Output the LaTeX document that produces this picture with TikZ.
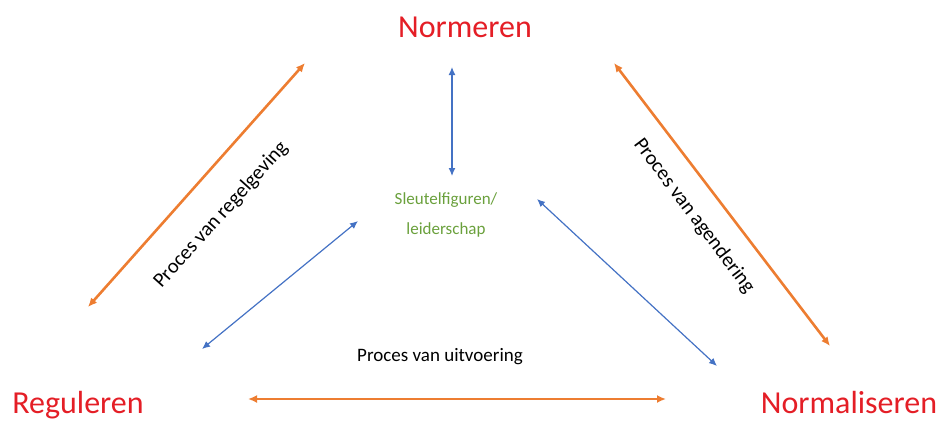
\documentclass[tikz,border=0pt]{standalone}
\usepackage{fontspec}
\setmainfont{Carlito}
\usetikzlibrary{arrows.meta}

\definecolor{kopRood}{RGB}{228,30,38}
\definecolor{procOranje}{RGB}{237,125,49}
\definecolor{linkBlauw}{RGB}{68,114,196}
\definecolor{kernGroen}{RGB}{106,160,60}

\begin{document}
\begin{tikzpicture}[  x = 1pt,  y = -1pt,
  kop/.style = {text=kopRood, font=\fontsize{32}{36}\selectfont},
  proces/.style = {font=\fontsize{19}{22}\selectfont},
  oranje/.style = {draw=procOranje, line width=2.6pt, {Latex[length=9pt,width=8pt]}-{Latex[length=9pt,width=8pt]}},
  blauw/.style = {draw=linkBlauw, line width=1.2pt, {Latex[length=8pt,width=7pt]}-{Latex[length=8pt,width=7pt]}}]
  \useasboundingbox (0,0) rectangle (945,421);

  % Define nodes
  \node[kop] (N) at (465,27) {Normeren};
  \node[kop] (R) at (78,405) {Reguleren};
  \node[kop] (M) at (849,402) {Normaliseren};
  \node[text=kernGroen, align=center, font=\fontsize{17}{30}\selectfont] (S) at (446,215) {Sleutelfiguren/\\leiderschap};
  \node[proces] (U) at (440,357) {Proces van uitvoering};
  \node[proces, rotate=48, font=\fontsize{20.5}{24}\selectfont] (RG) at (221,215) {Proces van regelgeving};
  \node[proces, rotate=-53, font=\fontsize{20.5}{24}\selectfont] (AG) at (694,216) {Proces van agendering};

  % Arrow ends
  \coordinate (a1) at (88,307);
  \coordinate (a2) at (305,63);
  \coordinate (b1) at (614,63);
  \coordinate (b2) at (830,346);
  \coordinate (c1) at (248,399);
  \coordinate (c2) at (666,399);
  \coordinate (d1) at (452,67);
  \coordinate (d2) at (452,176);
  \coordinate (e1) at (358,221);
  \coordinate (e2) at (202,349);
  \coordinate (f1) at (537,199);
  \coordinate (f2) at (717,366);

  % Draw arrows
  \draw[oranje] (a1) -- (a2);
  \draw[oranje] (b1) -- (b2);
  \draw[oranje] (c1) -- (c2);
  \draw[blauw] (d1) -- (d2);
  \draw[blauw] (e1) -- (e2);
  \draw[blauw] (f1) -- (f2);
\end{tikzpicture}
\end{document}
